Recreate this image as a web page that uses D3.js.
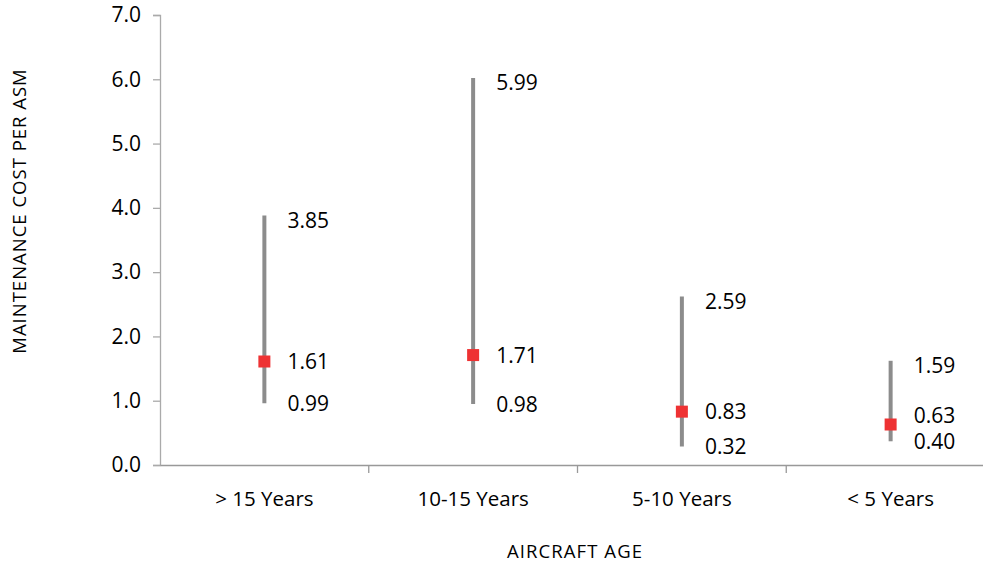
<!DOCTYPE html>
<html>
<head>
<meta charset="utf-8">
<script src="https://cdn.jsdelivr.net/npm/d3@7"></script>
<style>
  html, body { margin: 0; padding: 0; background: #fff; }
  svg { display: block; font-family: "Open Sans", sans-serif; }
</style>
</head>
<body>
<svg id="chart" width="983" height="564"></svg>
<script>
const categories = ["> 15 Years", "10-15 Years", "5-10 Years", "< 5 Years"];
const highValues = [3.85, 5.99, 2.59, 1.59];
const medianValues = [1.61, 1.71, 0.83, 0.63];
const lowValues = [0.99, 0.98, 0.32, 0.40];
const yTicks = [0, 1, 2, 3, 4, 5, 6, 7];
const xTitle = "AIRCRAFT AGE";
const yTitle = "MAINTENANCE COST PER ASM";

const FONT = "Open Sans";
const svg = d3.select("#chart");
const plotLeft = 160, plotRight = 995, plotTop = 15, plotBottom = 465;

const x = d3.scaleBand().domain(categories).range([plotLeft, plotRight]);
const y = d3.scaleLinear().domain([0, 7]).range([plotBottom, plotTop]);

// Y axis
const yAxis = svg.append("g")
  .attr("transform", `translate(${plotLeft},0)`)
  .call(d3.axisLeft(y).tickValues(yTicks).tickFormat(d3.format(".1f")).tickSize(7).tickPadding(12));
yAxis.select(".domain").attr("stroke", "#aaa").attr("stroke-width", 1.3);
yAxis.selectAll(".tick line").attr("stroke", "#aaa").attr("stroke-width", 1.3);
yAxis.selectAll(".tick text").attr("font-size", 21).attr("fill", "#000")
  .attr("font-family", FONT);

// X axis
const xAxis = svg.append("g")
  .attr("transform", `translate(0,${plotBottom})`)
  .call(d3.axisBottom(x).tickSize(0).tickPadding(26));
xAxis.select(".domain").attr("stroke", "#999").attr("stroke-width", 1.3);
xAxis.selectAll(".tick text").attr("font-size", 20.5).attr("fill", "#000")
  .attr("font-family", FONT);
// category separator ticks
svg.append("g").selectAll("line")
  .data(categories.slice(1))
  .join("line")
  .attr("x1", d => x(d)).attr("x2", d => x(d))
  .attr("y1", plotBottom).attr("y2", plotBottom + 8)
  .attr("stroke", "#999").attr("stroke-width", 1.3);

const data = categories.map((c, i) => ({
  c, hi: highValues[i], med: medianValues[i], lo: lowValues[i]
}));

const g = svg.append("g");
const cx = d => x(d.c) + x.bandwidth() / 2;

g.selectAll("line.whisker")
  .data(data)
  .join("line")
  .attr("class", "whisker")
  .attr("x1", cx).attr("x2", cx)
  .attr("y1", d => y(d.hi)).attr("y2", d => y(d.lo))
  .attr("stroke", "#8c8c8c").attr("stroke-width", 4)
  .attr("stroke-linecap", "square");

const ms = 12;
g.selectAll("rect.med")
  .data(data)
  .join("rect")
  .attr("class", "med")
  .attr("x", d => cx(d) - ms / 2)
  .attr("y", d => y(d.med) - ms / 2)
  .attr("width", ms).attr("height", ms)
  .attr("fill", "#ee3233");

// labels
const labels = [];
data.forEach(d => {
  const hiY = y(d.hi) + 3;
  const loY = y(d.lo) + 2;
  let medY = y(d.med);
  if (loY - medY < 26) medY = loY - 26;
  labels.push({ x: cx(d) + 23, y: hiY, t: d.hi.toFixed(2) });
  labels.push({ x: cx(d) + 23, y: medY, t: d.med.toFixed(2) });
  labels.push({ x: cx(d) + 23, y: loY, t: d.lo.toFixed(2) });
});
g.selectAll("text.lbl")
  .data(labels)
  .join("text")
  .attr("class", "lbl")
  .attr("x", d => d.x).attr("y", d => d.y)
  .attr("dy", "0.36em")
  .attr("font-size", 21).attr("fill", "#000")
  .text(d => d.t);

// titles
svg.append("text")
  .attr("x", 575).attr("y", 558)
  .attr("text-anchor", "middle")
  .attr("font-size", 18.5).attr("letter-spacing", 1.1).attr("fill", "#000")
  .text(xTitle);

svg.append("text")
  .attr("transform", "translate(26,211) rotate(-90)")
  .attr("text-anchor", "middle")
  .attr("font-size", 18.5).attr("letter-spacing", 1).attr("fill", "#000")
  .text(yTitle);
</script>
</body>
</html>
